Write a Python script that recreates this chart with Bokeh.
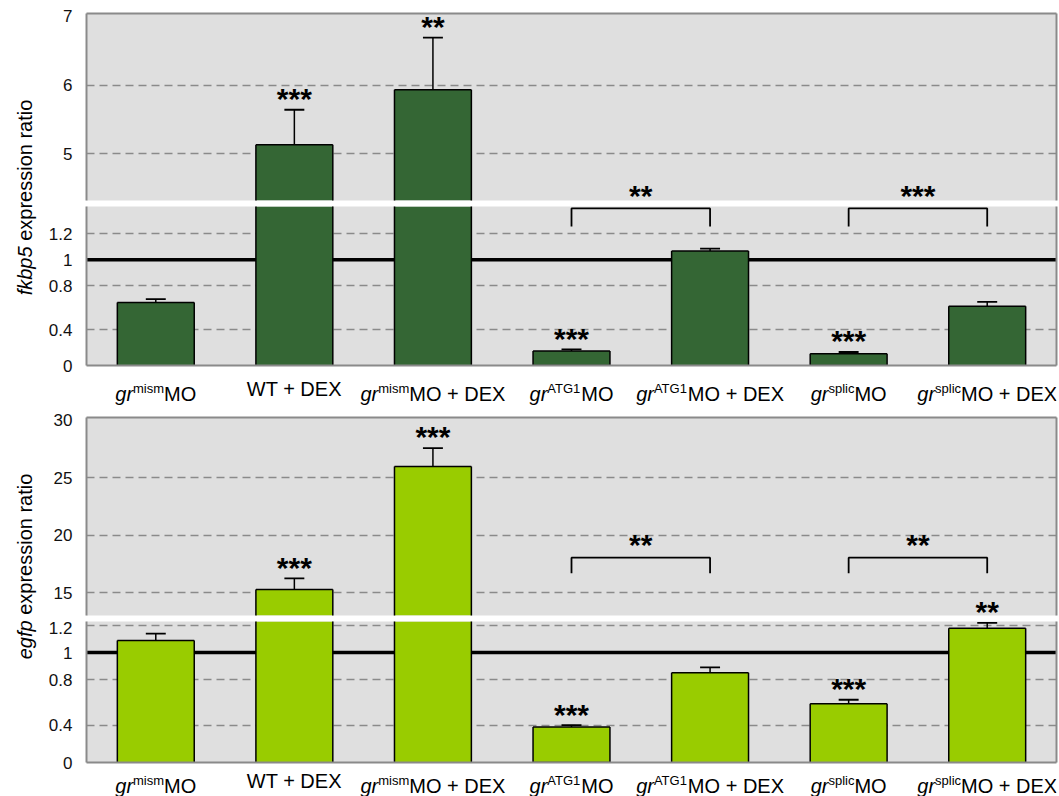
import math
from bokeh.plotting import figure
from bokeh.layouts import column, row
from bokeh.models import (Range1d, FixedTicker, LinearAxis, Span, NumeralTickFormatter, Grid,
                          CustomJSTickFormatter)
from bokeh.core.properties import value
from bokeh.embed import file_html
from bokeh.resources import INLINE

# ---------------- data ----------------
cat_prefix = ["gr", "", "gr", "gr", "gr", "gr", "gr"]
cat_super = ["mism", "", "mism", "ATG1", "ATG1", "splic", "splic"]
cat_main = ["MO", "WT + DEX", "MO + DEX", "MO", "MO + DEX", "MO", "MO + DEX"]

fkbp5_mean = [0.67, 5.13, 5.93, 0.16, 1.067, 0.13, 0.64]
fkbp5_err = [0.025, 0.51, 0.76, 0.02, 0.018, 0.02, 0.035]
fkbp5_stars = ["", "***", "**", "***", "", "***", ""]
fkbp5_brackets = [(3, 4, "**"), (5, 6, "***")]
fkbp5_ticks_upper = [5, 6, 7]
fkbp5_ticks_lower = [0, 0.4, 0.8, 1, 1.2]

egfp_mean = [1.09, 15.29, 25.95, 0.38, 0.85, 0.62, 1.18]
egfp_err = [0.05, 0.97, 1.6, 0.02, 0.04, 0.03, 0.04]
egfp_stars = ["", "***", "***", "***", "", "***", "**"]
egfp_brackets = [(3, 4, "**"), (5, 6, "**")]
egfp_ticks_upper = [15, 20, 25, 30]
egfp_ticks_lower = [0, 0.4, 0.8, 1, 1.2]

# ---------------- style / layout ----------------
FONT = "Liberation Sans"
BG = "#dfdfdf"
FRAME_C = "#8a8a8a"
GRID_C = "#8a8a8a"
FW = 970
BL = 46
BR = 3
TW = 40
MAIN_FS = 20
SUP_FS = 13
SUP_RAISE = 7
TICK_FS = "17px"
STAR_FS = 30
BAR_W = 0.555
CAP_HW = 0.072
BASE_CORR = 0.35   # baseline correction (fraction of font size) for svg text

XR = Range1d(-0.5, 6.5)

AW = {'g': 556, 'r': 333, 'm': 833, 'i': 222, 's': 500, 'M': 833, 'O': 778, ' ': 278, '+': 584,
      'D': 722, 'E': 667, 'X': 667, 'W': 944, 'T': 611, 'A': 667, 'G': 778, '1': 556, 'p': 556,
      'l': 222, 'c': 500, 'f': 278, 'k': 500, 'b': 556, '5': 556, 'e': 556, 'x': 500, 'o': 556,
      'n': 556, 'a': 556, 't': 278}


def tw(s, fs):
    return sum(AW.get(c, 556) for c in s) * fs / 1000.0


panels = [
    dict(mean=fkbp5_mean, err=fkbp5_err, stars=fkbp5_stars, brackets=fkbp5_brackets,
         color="#346634", top=0, height=412,
         up=dict(lo=4.32, hi=7.04, h=187, bt=13, bb=6, ticks=fkbp5_ticks_upper),
         low=dict(split=0.6, hi=1.41, mid_h=105, low_h=54, bb=9, ticks=fkbp5_ticks_lower),
         label_base=35, bracket_y=1.395, bracket_tick=1.256,
         t_italic="fkbp5", t_rest="expression ratio", t_center=197),
    dict(mean=egfp_mean, err=egfp_err, stars=egfp_stars, brackets=egfp_brackets,
         color="#99cc00", top=412, height=384,
         up=dict(lo=13.04, hi=30.2, h=198, bt=5, bb=6, ticks=egfp_ticks_upper),
         low=dict(split=0.6, hi=1.23, mid_h=85, low_h=56, bb=9, ticks=egfp_ticks_lower),
         label_base=30, bracket_y=18.05, bracket_tick=16.7,
         t_italic="egfp", t_rest="expression ratio", t_center=566),
]


def seg_px(s, v):
    return s["ftop"] + (s["hi"] - v) / (s["hi"] - s["lo"]) * s["h"]


def seg_val(s, px):
    return s["hi"] - (px - s["ftop"]) / s["h"] * (s["hi"] - s["lo"])


def seg_of_value(segs, v):
    for s in segs:
        if s["lo"] - 1e-9 <= v <= s["hi"] + 1e-9:
            return s
    return segs[0]


def seg_of_px(segs, px):
    best, bd = None, 1e9
    for s in segs:
        if s["ftop"] <= px <= s["ftop"] + s["h"]:
            return s
        d = min(abs(px - s["ftop"]), abs(px - s["ftop"] - s["h"]))
        if d < bd:
            best, bd = s, d
    return best


def line_axis(p, side):
    ax = LinearAxis(ticker=FixedTicker(ticks=[]), major_tick_out=0, major_tick_in=0,
                    minor_tick_out=0, minor_tick_in=0, major_label_standoff=0,
                    axis_line_color=FRAME_C, axis_line_width=2,
                    major_label_text_font_size="0px")
    p.add_layout(ax, side)


def style_yaxis(ya):
    ya.major_tick_out = 0
    ya.major_tick_in = 0
    ya.minor_tick_out = 0
    ya.minor_tick_in = 0
    ya.major_label_standoff = 14
    ya.axis_line_color = FRAME_C
    ya.axis_line_width = 2
    ya.major_label_text_font = FONT
    ya.major_label_text_font_size = TICK_FS
    ya.major_label_text_color = "#111111"


def style_grid(g, ticks):
    g.ticker = FixedTicker(ticks=ticks)
    g.grid_line_color = GRID_C
    g.grid_line_dash = "8 5"
    g.grid_line_width = 1.5


def base_fig(h, yr, bt, bb, below):
    p = figure(frame_width=FW, frame_height=h, x_range=XR, y_range=yr,
               min_border_left=BL, min_border_right=BR, min_border_top=bt,
               min_border_bottom=bb, x_axis_location="below" if below else None,
               y_axis_location="left", toolbar_location=None, output_backend="svg",
               background_fill_color=BG, border_fill_color="white", outline_line_color=None)
    p.xgrid.visible = False
    line_axis(p, "right")
    if below:
        xa = p.xaxis[0]
        xa.ticker = FixedTicker(ticks=[])
        xa.major_tick_out = 0
        xa.major_tick_in = 0
        xa.minor_tick_out = 0
        xa.major_label_standoff = 0
        xa.axis_line_color = FRAME_C
        xa.axis_line_width = 2
    return p


def draw_vs(vs, P, mean, caps):
    """Draw bars, error bars and brackets for one vertical piece of the broken axis."""
    p, rn, lo, hi = vs["fig"], vs["rn"], vs["lo"], vs["hi"]
    clamp_top = vs["clamp"]
    fb = vs["fill_bottom"]
    xs = list(range(len(mean)))
    if clamp_top:
        # bottom scale: only bars that end inside it (taller ones are drawn whole by the
        # upper scale of the same frame)
        sel = [i for i in xs if lo < mean[i] <= hi]
    else:
        sel = [i for i in xs if mean[i] > lo]
    if sel:
        bot = [fb for _ in sel]
        top = [mean[i] for i in sel]
        xl = [i - BAR_W / 2 for i in sel]
        xr = [i + BAR_W / 2 for i in sel]
        p.vbar(x=sel, width=BAR_W, bottom=bot, top=top, fill_color=P["color"], line_color=None,
               y_range_name=rn)
        p.segment(x0=xl, y0=bot, x1=xl, y1=top, line_color="black", line_width=1.5,
                  y_range_name=rn)
        p.segment(x0=xr, y0=bot, x1=xr, y1=top, line_color="black", line_width=1.5,
                  y_range_name=rn)
        p.segment(x0=xl, y0=top, x1=xr, y1=top, line_color="black", line_width=1.5,
                  y_range_name=rn)
    if lo == 0:
        p.segment(x0=[i - BAR_W / 2 for i in xs], y0=[0] * len(xs),
                  x1=[i + BAR_W / 2 for i in xs], y1=[0] * len(xs), line_color="black",
                  line_width=1.5, y_range_name=rn)
    esel = [i for i in xs if caps[i] > lo and mean[i] < hi]
    if esel:
        p.segment(x0=esel, y0=[max(mean[i], lo) for i in esel], x1=esel,
                  y1=[min(caps[i], hi) if clamp_top else caps[i] for i in esel],
                  line_color="black", line_width=1.5, y_range_name=rn)
    csel = [i for i in xs if lo < caps[i] <= hi]
    if csel:
        p.segment(x0=[i - CAP_HW for i in csel], y0=[caps[i] for i in csel],
                  x1=[i + CAP_HW for i in csel], y1=[caps[i] for i in csel],
                  line_color="black", line_width=1.8, y_range_name=rn)
    if lo <= P["bracket_y"] <= hi:
        for a, b, _ in P["brackets"]:
            p.line(x=[a, a, b, b], y=[P["bracket_tick"], P["bracket_y"], P["bracket_y"],
                                      P["bracket_tick"]], line_color="black", line_width=1.8,
                   y_range_name=rn)


def add_star(vsegs, value_y, i, text, gap):
    s0 = seg_of_value(vsegs, value_y)
    px = seg_px(s0, value_y) - gap
    s = seg_of_px(vsegs, px)
    v = seg_val(s, px)
    s["fig"].text(x=[i], y=[v], text=[text], text_align="center", text_baseline="alphabetic",
                  y_offset=(0.56 - 0.465) * STAR_FS, text_font=value(FONT),
                  text_font_size=f"{STAR_FS}px", text_font_style="bold", text_color="black",
                  y_range_name=s["rn"])


panel_layouts = []
for P in panels:
    mean, err = P["mean"], P["err"]
    caps = [m + e for m, e in zip(mean, err)]
    U, L = P["up"], P["low"]

    # ---- upper piece of the broken axis ----
    up = base_fig(U["h"], Range1d(U["lo"], U["hi"]), U["bt"], U["bb"], False)
    line_axis(up, "above")
    urng = U["hi"] - U["lo"]
    ya = up.yaxis[0]
    ya.ticker = FixedTicker(ticks=U["ticks"], minor_ticks=[])
    ya.formatter = NumeralTickFormatter(format="0.[0]")
    style_yaxis(ya)
    style_grid(up.ygrid[0], [t for t in U["ticks"] if (U["hi"] - t) / urng * U["h"] > 3])

    # ---- lower piece: one frame, two scales meeting at L["split"] ----
    split = L["split"]
    k = (L["hi"] - split) / L["mid_h"]
    mid_lo = split - L["low_h"] * k
    lowf = base_fig(L["mid_h"] + L["low_h"], Range1d(mid_lo, L["hi"]), 0, L["bb"], True)
    lowf.extra_y_ranges = {"low": Range1d(0, split * (L["mid_h"] + L["low_h"]) / L["low_h"])}
    lt = L["ticks"]
    tick_pos = [mid_lo if t == 0 else (split - (1 - t / split) * L["low_h"] * k if t < split else t)
                for t in lt]
    tick_lab = ["{:g}".format(t) for t in lt]
    ya = lowf.yaxis[0]
    ya.ticker = FixedTicker(ticks=tick_pos, minor_ticks=[])
    ya.formatter = CustomJSTickFormatter(args=dict(pos=tick_pos, labels=tick_lab), code="""
        let best = 0;
        for (let j = 0; j < pos.length; j++) {
            if (Math.abs(pos[j] - tick) < Math.abs(pos[best] - tick)) { best = j; }
        }
        return labels[best];
    """)
    style_yaxis(ya)
    mid_grid = [t for t in lt if t > split and t != 1 and (L["hi"] - t) / k > 3]
    style_grid(lowf.ygrid[0], mid_grid)
    g2 = Grid(dimension=1, y_range_name="low")
    style_grid(g2, [t for t in lt if 0 < t < split])
    lowf.add_layout(g2)
    lowf.add_layout(Span(location=1, dimension="width", line_color="black", line_width=3.5,
                         level="underlay"))

    top = P["top"]
    up_ftop = top + U["bt"]
    low_ftop = up_ftop + U["h"] + U["bb"]
    vsegs = [dict(fig=up, rn="default", lo=U["lo"], hi=U["hi"], ftop=up_ftop, h=U["h"],
                  clamp=False, fill_bottom=U["lo"] - urng),
             dict(fig=lowf, rn="default", lo=split, hi=L["hi"], ftop=low_ftop, h=L["mid_h"],
                  clamp=False, fill_bottom=mid_lo),
             dict(fig=lowf, rn="low", lo=0.0, hi=split, ftop=low_ftop + L["mid_h"], h=L["low_h"],
                  clamp=True, fill_bottom=0.0)]
    draw_vs(vsegs[2], P, mean, caps)
    draw_vs(vsegs[1], P, mean, caps)
    draw_vs(vsegs[0], P, mean, caps)

    for i, st in enumerate(P["stars"]):
        if st:
            add_star(vsegs, caps[i], i, st, 14)
    for a, b, st in P["brackets"]:
        add_star(vsegs, P["bracket_y"], (a + b) / 2.0, st, 16)

    # ---- category label strip ----
    used = U["bt"] + U["h"] + U["bb"] + L["mid_h"] + L["low_h"] + L["bb"]
    strip_h = P["height"] - used
    strip = figure(frame_width=FW, frame_height=strip_h, x_range=XR, y_range=Range1d(0, strip_h),
                   min_border_left=BL, min_border_right=BR, min_border_top=0, min_border_bottom=0,
                   x_axis_location=None, y_axis_location=None, toolbar_location=None,
                   output_backend="svg", background_fill_color="white",
                   border_fill_color="white", outline_line_color=None)
    strip.xgrid.visible = False
    strip.ygrid.visible = False
    base_y = strip_h - (P["label_base"] - L["bb"])
    for i in range(len(cat_main)):
        pieces = []
        if cat_prefix[i]:
            pieces.append((cat_prefix[i], "italic", MAIN_FS, 0))
        if cat_super[i]:
            pieces.append((cat_super[i], "normal", SUP_FS, SUP_RAISE))
        pieces.append((cat_main[i], "normal", MAIN_FS, 0))
        total = sum(tw(t, fs) for t, _, fs, _ in pieces)
        x0 = -total / 2.0
        lift = 0 if cat_super[i] else 5
        for t, style, fs, rz in pieces:
            strip.text(x=[i], y=[base_y + rz + lift], text=[t], x_offset=x0,
                       y_offset=-BASE_CORR * fs, text_align="left",
                       text_baseline="alphabetic", text_font=value(FONT),
                       text_font_size=f"{fs}px", text_font_style=style, text_color="black")
            x0 += tw(t, fs)

    # ---- y-axis title ----
    H = P["height"]
    tfig = figure(width=TW, height=H, x_range=Range1d(0, TW), y_range=Range1d(0, H),
                  min_border=0, min_border_left=0, min_border_right=0, min_border_top=0,
                  min_border_bottom=0, x_axis_location=None, y_axis_location=None,
                  toolbar_location=None, output_backend="svg", background_fill_color="white",
                  border_fill_color="white", outline_line_color=None)
    tfig.xgrid.visible = False
    tfig.ygrid.visible = False
    wi = tw(P["t_italic"], 20)
    wr = tw(P["t_rest"], 20)
    wsp = tw(" ", 20)
    total = wi + wsp + wr
    anchor_page = P["t_center"] + total / 2.0 - wi
    ay = H - (anchor_page - top)
    tfig.text(x=[24], y=[ay], text=[P["t_italic"]], angle=math.pi / 2, text_align="right",
              text_baseline="middle", text_font=value(FONT), text_font_size="20px",
              text_font_style="italic", text_color="black")
    tfig.text(x=[24], y=[ay + wsp], text=[P["t_rest"]], angle=math.pi / 2, text_align="left",
              text_baseline="middle", text_font=value(FONT), text_font_size="20px",
              text_color="black")

    panel_layouts.append(row(tfig, column(up, lowf, strip, spacing=0), spacing=0))

layout = column(*panel_layouts, spacing=0)
open("out.html", "w").write(file_html(layout, INLINE))
